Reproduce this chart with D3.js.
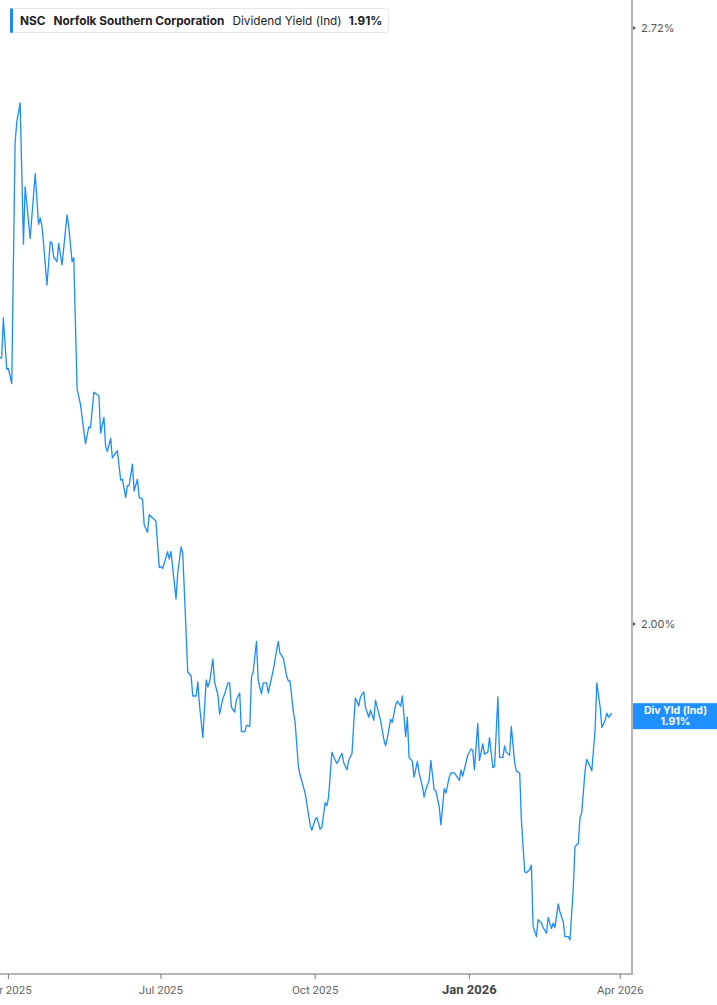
<!DOCTYPE html>
<html>
<head>
<meta charset="utf-8">
<script src="https://cdn.jsdelivr.net/npm/d3@7"></script>
<style>
  html, body { margin: 0; padding: 0; background: #fff; }
  svg { display: block; }
</style>
</head>
<body>
<svg id="chart"></svg>
<script>
// NSC dividend yield (indicated), %
const dates = [
  "2025-03-27","2025-03-28","2025-03-29","2025-03-31","2025-04-01","2025-04-03","2025-04-05","2025-04-06","2025-04-08","2025-04-10",
  "2025-04-11","2025-04-14","2025-04-17","2025-04-19","2025-04-20","2025-04-21","2025-04-22","2025-04-24","2025-04-26","2025-04-27",
  "2025-04-28","2025-04-30","2025-05-01","2025-05-03","2025-05-06","2025-05-07","2025-05-09","2025-05-10","2025-05-12","2025-05-14",
  "2025-05-17","2025-05-19","2025-05-20","2025-05-22","2025-05-25","2025-05-26","2025-05-28","2025-05-29","2025-05-30","2025-06-01",
  "2025-06-02","2025-06-05","2025-06-07","2025-06-08","2025-06-10","2025-06-11","2025-06-12","2025-06-14","2025-06-15","2025-06-17",
  "2025-06-18","2025-06-20","2025-06-21","2025-06-23","2025-06-24","2025-06-28","2025-06-30","2025-07-01","2025-07-02","2025-07-05",
  "2025-07-06","2025-07-07","2025-07-10","2025-07-11","2025-07-13","2025-07-14","2025-07-17","2025-07-19","2025-07-20","2025-07-22",
  "2025-07-23","2025-07-24","2025-07-26","2025-07-28","2025-07-29","2025-07-30","2025-08-01","2025-08-02","2025-08-04","2025-08-05",
  "2025-08-07","2025-08-08","2025-08-10","2025-08-11","2025-08-12","2025-08-14","2025-08-15","2025-08-17","2025-08-18","2025-08-20",
  "2025-08-21","2025-08-23","2025-08-24","2025-08-25","2025-08-27","2025-08-28","2025-08-30","2025-08-31","2025-09-02","2025-09-03",
  "2025-09-06","2025-09-08","2025-09-09","2025-09-10","2025-09-12","2025-09-14","2025-09-15","2025-09-16","2025-09-18","2025-09-19",
  "2025-09-21","2025-09-22","2025-09-25","2025-09-28","2025-09-29","2025-10-01","2025-10-02","2025-10-04","2025-10-05","2025-10-07",
  "2025-10-08","2025-10-09","2025-10-11","2025-10-13","2025-10-14","2025-10-15","2025-10-17","2025-10-18","2025-10-20","2025-10-21",
  "2025-10-23","2025-10-24","2025-10-25","2025-10-27","2025-10-28","2025-10-30","2025-10-31","2025-11-02","2025-11-03","2025-11-05",
  "2025-11-06","2025-11-07","2025-11-09","2025-11-11","2025-11-12","2025-11-13","2025-11-15","2025-11-16","2025-11-18","2025-11-19",
  "2025-11-21","2025-11-22","2025-11-24","2025-11-25","2025-11-26","2025-11-28","2025-11-29","2025-12-01","2025-12-02","2025-12-04",
  "2025-12-05","2025-12-06","2025-12-08","2025-12-09","2025-12-11","2025-12-12","2025-12-14","2025-12-15","2025-12-17","2025-12-18",
  "2025-12-20","2025-12-21","2025-12-23","2025-12-24","2025-12-26","2025-12-27","2025-12-28","2025-12-30","2025-12-31","2026-01-02",
  "2026-01-03","2026-01-04","2026-01-06","2026-01-07","2026-01-09","2026-01-10","2026-01-12","2026-01-13","2026-01-15","2026-01-16",
  "2026-01-18","2026-01-19","2026-01-21","2026-01-22","2026-01-23","2026-01-25","2026-01-26","2026-01-28","2026-01-29","2026-01-31",
  "2026-02-01","2026-02-03","2026-02-04","2026-02-06","2026-02-07","2026-02-08","2026-02-10","2026-02-11","2026-02-13","2026-02-14",
  "2026-02-16","2026-02-17","2026-02-19","2026-02-20","2026-02-21","2026-02-23","2026-02-24","2026-02-26","2026-02-27","2026-03-01",
  "2026-03-02","2026-03-04","2026-03-05","2026-03-07","2026-03-08","2026-03-09","2026-03-11","2026-03-12","2026-03-14","2026-03-15",
  "2026-03-17","2026-03-18","2026-03-20","2026-03-21","2026-03-23","2026-03-24","2026-03-25","2026-03-27"
];
const yields = [
  2.295,2.294,2.342,2.281,2.282,2.264,2.563,2.591,2.617,2.433,
  2.506,2.440,2.523,2.458,2.466,2.456,2.434,2.382,2.436,2.434,
  2.417,2.411,2.434,2.407,2.470,2.455,2.411,2.416,2.258,2.240,
  2.195,2.214,2.213,2.254,2.250,2.207,2.225,2.192,2.186,2.201,
  2.179,2.187,2.154,2.155,2.135,2.148,2.148,2.172,2.142,2.155,
  2.135,2.133,2.105,2.097,2.116,2.109,2.059,2.060,2.058,2.076,
  2.068,2.076,2.026,2.053,2.081,2.075,1.951,1.947,1.927,1.927,
  1.941,1.918,1.886,1.943,1.936,1.941,1.964,1.941,1.928,1.909,
  1.925,1.929,1.940,1.940,1.916,1.911,1.923,1.930,1.892,1.892,
  1.898,1.897,1.946,1.951,1.982,1.943,1.929,1.940,1.940,1.930,
  1.953,1.973,1.982,1.970,1.965,1.947,1.942,1.942,1.911,1.902,
  1.858,1.850,1.833,1.803,1.798,1.808,1.810,1.799,1.801,1.824,
  1.821,1.829,1.872,1.864,1.861,1.864,1.871,1.862,1.855,1.864,
  1.871,1.900,1.925,1.917,1.926,1.931,1.916,1.906,1.913,1.903,
  1.923,1.916,1.903,1.884,1.878,1.885,1.904,1.901,1.918,1.922,
  1.917,1.927,1.887,1.906,1.867,1.863,1.848,1.863,1.852,1.839,
  1.829,1.836,1.845,1.864,1.836,1.835,1.820,1.803,1.837,1.833,
  1.848,1.852,1.852,1.850,1.845,1.855,1.849,1.862,1.869,1.875,
  1.874,1.855,1.900,1.864,1.880,1.870,1.872,1.886,1.857,1.858,
  1.926,1.867,1.867,1.878,1.872,1.869,1.897,1.862,1.854,1.852,
  1.808,1.760,1.759,1.762,1.766,1.711,1.702,1.717,1.714,1.710,
  1.705,1.719,1.709,1.714,1.710,1.731,1.724,1.715,1.702,1.702,
  1.699,1.746,1.783,1.786,1.810,1.814,1.854,1.865,1.858,1.854,
  1.894,1.940,1.916,1.896,1.903,1.910,1.906,1.910
];
const yTicks = [2.00, 2.72];
const xTicks = ["2025-04-01", "2025-07-01", "2025-10-01", "2026-01-01", "2026-04-01"];
const xTickLabels = ["Apr 2025", "Jul 2025", "Oct 2025", "Jan 2026", "Apr 2026"];
const ticker = "NSC";
const company = "Norfolk Southern Corporation";
const metric = "Dividend Yield (Ind)";
const shortMetric = "Div Yld (Ind)";

const width = 717, height = 1005;
const plotRight = 632, plotBottom = 974;
const blue = "#1a8cff";
const axisGray = "#b5b5b5";

const parse = d3.utcParse("%Y-%m-%d");
const data = dates.map((d, i) => ({ date: parse(d), value: yields[i] }));
const last = data[data.length - 1];

const svg = d3.select("#chart")
    .attr("width", width)
    .attr("height", height);

const x = d3.scaleUtc()
    .domain([parse("2025-03-27"), parse("2026-04-08")])
    .range([0, plotRight]);

const y = d3.scaleLog()
    .domain([1.6695, 2.7596])
    .range([plotBottom, 0]);

// line
const line = d3.line()
    .x(d => x(d.date))
    .y(d => y(d.value));

svg.append("path")
    .datum(data)
    .attr("fill", "none")
    .attr("stroke", blue)
    .attr("stroke-width", 1.3)
    .attr("stroke-linejoin", "round")
    .attr("d", line);

// right axis
svg.append("line")
    .attr("x1", plotRight).attr("x2", plotRight)
    .attr("y1", 0).attr("y2", plotBottom)
    .attr("stroke", axisGray).attr("stroke-width", 2);

const yAxis = svg.append("g");
yTicks.forEach(t => {
    const ty = y(t);
    yAxis.append("path")
        .attr("d", `M${plotRight + 1},${ty - 2}L${plotRight + 4},${ty}L${plotRight + 1},${ty + 2}Z`)
        .attr("fill", "#555");
    yAxis.append("text")
        .attr("x", plotRight + 9)
        .attr("y", ty)
        .attr("dy", "0.35em")
        .attr("font-family", "Inter, 'Noto Sans', sans-serif")
        .attr("font-size", "11px")
        .attr("fill", "#555")
        .text(t.toFixed(2) + "%");
});

// bottom axis
svg.append("line")
    .attr("x1", 0).attr("x2", plotRight + 1)
    .attr("y1", plotBottom).attr("y2", plotBottom)
    .attr("stroke", axisGray).attr("stroke-width", 2);

const xAxis = svg.append("g");
xTicks.forEach((t, i) => {
    const tx = x(parse(t));
    const isYear = xTickLabels[i].startsWith("Jan");
    xAxis.append("line")
        .attr("x1", tx).attr("x2", tx)
        .attr("y1", plotBottom).attr("y2", plotBottom + 5)
        .attr("stroke", "#777").attr("stroke-width", 1);
    xAxis.append("text")
        .attr("x", tx)
        .attr("y", 994)
        .attr("text-anchor", "middle")
        .attr("font-family", "'Liberation Sans Narrow', 'Roboto', sans-serif")
        .attr("font-size", isYear ? "13px" : "11.5px")
        .attr("font-weight", isYear ? "bold" : "normal")
        .attr("fill", isYear ? "#444" : "#666")
        .text(xTickLabels[i]);
});

// last value label
const ly = y(last.value) + 2;
const tag = svg.append("g");
tag.append("rect")
    .attr("x", plotRight + 1)
    .attr("y", ly - 12)
    .attr("width", width - plotRight)
    .attr("height", 26)
    .attr("fill", "#1e90ff");
tag.append("text")
    .attr("x", (plotRight + width) / 2 + 1)
    .attr("y", ly - 1)
    .attr("text-anchor", "middle")
    .attr("font-family", "Inter, 'Noto Sans', sans-serif")
    .attr("font-size", "10.5px")
    .attr("font-weight", "bold")
    .attr("fill", "#fff")
    .text(shortMetric);
tag.append("text")
    .attr("x", (plotRight + width) / 2 + 1)
    .attr("y", ly + 10)
    .attr("text-anchor", "middle")
    .attr("font-family", "Inter, 'Noto Sans', sans-serif")
    .attr("font-size", "10.5px")
    .attr("font-weight", "bold")
    .attr("fill", "#fff")
    .text(last.value.toFixed(2) + "%");

// legend box top-left
const legend = svg.append("g");
legend.append("rect")
    .attr("x", 10.5).attr("y", 8.5)
    .attr("width", 378).attr("height", 24)
    .attr("rx", 3)
    .attr("fill", "#fff")
    .attr("stroke", "#e6e6e6");
legend.append("rect")
    .attr("x", 10).attr("y", 8)
    .attr("width", 3).attr("height", 25)
    .attr("rx", 1.5)
    .attr("fill", blue);

const lt = legend.append("text")
    .attr("x", 20)
    .attr("y", 25)
    .attr("font-family", "Inter, 'Noto Sans', sans-serif")
    .attr("font-size", "11.8px")
    .attr("fill", "#222");
lt.append("tspan").attr("font-weight", "bold").text(ticker);
lt.append("tspan").attr("dx", 8).attr("font-weight", "bold").text(company);
lt.append("tspan").attr("dx", 8).attr("font-weight", "normal").text(metric);
lt.append("tspan").attr("dx", 7).attr("font-weight", "bold").text(last.value.toFixed(2) + "%");
</script>
</body>
</html>
